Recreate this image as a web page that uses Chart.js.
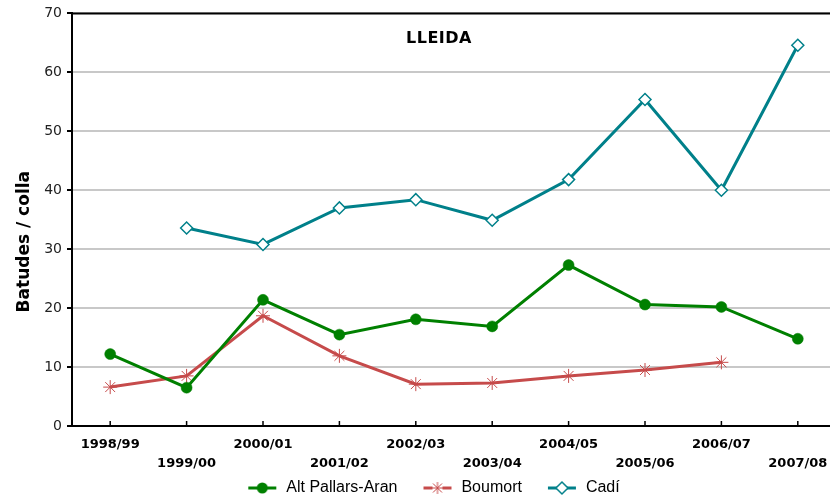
<!DOCTYPE html>
<html>
<head>
<meta charset="utf-8">
<script src="https://cdn.jsdelivr.net/npm/chart.js@4.4.1/dist/chart.umd.min.js"></script>
<style>
  html, body { margin: 0; padding: 0; background: #fff; overflow: hidden; }
  #wrap { width: 844px; height: 500px; }
</style>
</head>
<body>
<div id="wrap"><canvas id="chart" width="844" height="500"></canvas></div>
<script>
// seasons on the x axis
const seasons = ['1998/99', '1999/00', '2000/01', '2001/02', '2002/03',
                 '2003/04', '2004/05', '2005/06', '2006/07', '2007/08'];

// batudes per colla
const altPallarsAran = [12.2, 6.5, 21.4, 15.5, 18.1, 16.9, 27.3, 20.6, 20.2, 14.8];
const boumort        = [6.6, 8.5, 18.7, 11.9, 7.1, 7.3, 8.5, 9.5, 10.8, null];
const cadi           = [null, 33.6, 30.8, 37.0, 38.4, 34.9, 41.8, 55.4, 40.0, 64.6];

const seriesNames = ['Alt Pallars-Aran', 'Boumort', 'Cadí'];
const yMax = 70;
const yStep = 10;

const GREEN = '#008000';
const RED = '#c64b4b';
const TEAL = '#00808a';

// little line + marker pictures for the legend
function legendIcon(color, kind) {
    const c = document.createElement('canvas');
    c.width = 54; c.height = 16;
    const g = c.getContext('2d');
    g.strokeStyle = color;
    g.lineWidth = 3;
    g.beginPath(); g.moveTo(24, 8); g.lineTo(52, 8); g.stroke();
    const cx = 38, cy = 8;
    if (kind === 'circle') {
        g.fillStyle = color;
        g.beginPath(); g.arc(cx, cy, 5.5, 0, Math.PI * 2); g.fill();
    } else if (kind === 'star') {
        g.fillStyle = '#fff';
        g.fillRect(cx - 5, cy - 2, 10, 4);
        g.lineWidth = 1;
        g.beginPath();
        g.moveTo(cx - 6, cy); g.lineTo(cx + 6, cy);
        g.moveTo(cx, cy - 6); g.lineTo(cx, cy + 6);
        g.moveTo(cx - 4.5, cy - 4.5); g.lineTo(cx + 4.5, cy + 4.5);
        g.moveTo(cx - 4.5, cy + 4.5); g.lineTo(cx + 4.5, cy - 4.5);
        g.stroke();
    } else {
        g.fillStyle = '#fff';
        g.lineWidth = 1.5;
        g.beginPath();
        g.moveTo(cx, cy - 6); g.lineTo(cx + 6, cy); g.lineTo(cx, cy + 6); g.lineTo(cx - 6, cy); g.closePath();
        g.fill(); g.stroke();
    }
    return c;
}
const legendIcons = [legendIcon(GREEN, 'circle'), legendIcon(RED, 'star'), legendIcon(TEAL, 'diamond')];

// frame top line, inner x ticks and the two titles
const extras = {
    id: 'extras',
    afterDraw(chart) {
        const { ctx, chartArea } = chart;
        const xs = chart.scales.x;
        ctx.save();
        ctx.strokeStyle = '#000';
        ctx.lineWidth = 2;
        ctx.beginPath();
        ctx.moveTo(chartArea.left - 1, chartArea.top);
        ctx.lineTo(chartArea.right, chartArea.top);
        ctx.stroke();

        ctx.lineWidth = 1.5;
        ctx.beginPath();
        xs.ticks.forEach((t, i) => {
            const x = xs.getPixelForTick(i);
            ctx.moveTo(x, chartArea.bottom);
            ctx.lineTo(x, chartArea.bottom - 5);
        });
        ctx.stroke();

        ctx.fillStyle = '#000';
        ctx.textAlign = 'center';
        ctx.textBaseline = 'middle';
        ctx.font = 'bold 16px "DejaVu Sans"';
        ctx.letterSpacing = '0.5px';
        ctx.fillText('LLEIDA', chartArea.left + 367, chartArea.top + 25);
        ctx.letterSpacing = '0px';

        ctx.translate(25, (chartArea.top + chartArea.bottom) / 2 + 22);
        ctx.rotate(-Math.PI / 2);
        ctx.font = 'bold 17px "DejaVu Sans"';
        ctx.fillText('Batudes / colla', 0, 0);
        ctx.restore();
    }
};

new Chart(document.getElementById('chart'), {
    type: 'line',
    data: {
        labels: seasons,
        datasets: [
            {
                label: seriesNames[0], data: altPallarsAran,
                borderColor: GREEN, backgroundColor: GREEN, borderWidth: 3,
                pointStyle: 'circle', pointRadius: 5.5, pointBorderWidth: 0.5,
                pointBackgroundColor: GREEN, pointBorderColor: GREEN
            },
            {
                label: seriesNames[1], data: boumort,
                borderColor: RED, backgroundColor: RED, borderWidth: 3,
                pointStyle: 'star', pointRadius: 7, pointBorderWidth: 1, pointBorderColor: RED
            },
            {
                label: seriesNames[2], data: cadi,
                borderColor: TEAL, backgroundColor: TEAL, borderWidth: 3,
                pointStyle: 'rectRot', pointRadius: 6, pointBorderWidth: 1.5,
                pointBackgroundColor: '#fff', pointBorderColor: TEAL
            }
        ]
    },
    options: {
        responsive: false,
        animation: false,
        layout: { padding: { top: 13, left: 0, right: 0, bottom: -6 } },
        elements: { line: { tension: 0 } },
        scales: {
            x: {
                offset: true,
                grid: { display: false, drawTicks: false },
                border: { display: true, color: '#000', width: 2 },
                ticks: {
                    autoSkip: false, maxRotation: 0, minRotation: 0,
                    padding: 9,
                    color: '#000',
                    font: { family: '"DejaVu Sans"', size: 13, weight: 'bold', lineHeight: 1.46 },
                    callback: (v, i) => (i % 2 === 0 ? [seasons[i], ''] : ['', seasons[i]])
                },
                afterFit: (scale) => {
                    scale.height = 52;
                    scale.paddingLeft = 0;
                    scale.paddingRight = 0;
                }
            },
            y: {
                min: 0, max: yMax,
                grid: { color: '#c8c8c8', lineWidth: 2, tickColor: '#000', tickLength: 5 },
                border: { display: true, color: '#000', width: 2 },
                ticks: {
                    stepSize: yStep, padding: 5, color: '#222',
                    font: { family: '"DejaVu Sans"', size: 14 }
                },
                afterFit: (scale) => { scale.width = 72; }
            }
        },
        plugins: {
            tooltip: { enabled: false },
            legend: {
                position: 'bottom',
                labels: {
                    usePointStyle: true,
                    pointStyleWidth: 54,
                    padding: 2,
                    color: '#000',
                    font: { family: '"Liberation Sans"', size: 16 },
                    generateLabels: (chart) => {
                        const items = Chart.defaults.plugins.legend.labels.generateLabels(chart);
                        items.forEach((it, i) => { it.pointStyle = legendIcons[i]; });
                        return items;
                    }
                }
            }
        }
    },
    plugins: [extras]
});
</script>
</body>
</html>
